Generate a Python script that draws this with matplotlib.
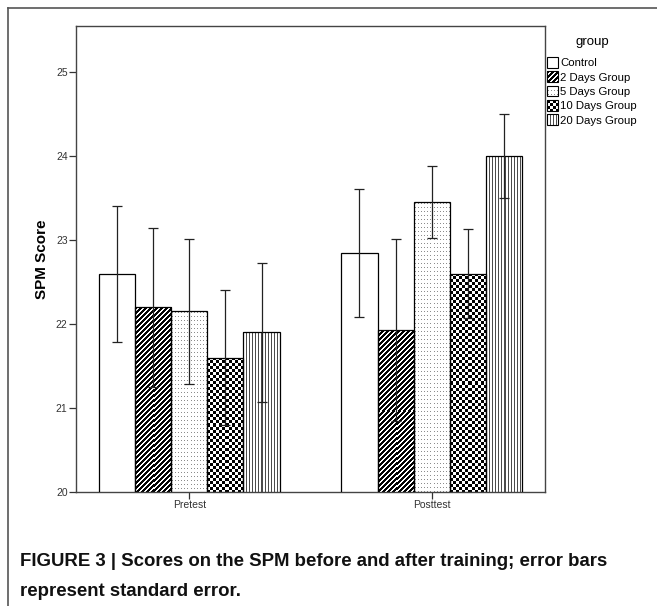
import matplotlib
matplotlib.use('Agg')
import matplotlib.pyplot as plt
import numpy as np
from matplotlib.legend_handler import HandlerBase
from matplotlib.lines import Line2D
from matplotlib.patches import Patch, Rectangle

# data
phases = ['Pretest', 'Posttest']
groups = ['Control', '2 Days Group', '5 Days Group', '10 Days Group', '20 Days Group']
means = {
    'Control':       [22.60, 22.85],
    '2 Days Group':  [22.20, 21.93],
    '5 Days Group':  [22.15, 23.45],
    '10 Days Group': [21.60, 22.60],
    '20 Days Group': [21.90, 24.00],
}
sems = {
    'Control':       [0.81, 0.76],
    '2 Days Group':  [0.95, 1.08],
    '5 Days Group':  [0.86, 0.43],
    '10 Days Group': [0.80, 0.53],
    '20 Days Group': [0.83, 0.50],
}
y_ticks = [20, 21, 22, 23, 24, 25]
textures = ['blank', 'diag', 'dots', 'checker', 'vlines']

DPI = 100
plt.rcParams['font.family'] = ['Liberation Sans Narrow', 'Liberation Sans', 'DejaVu Sans']


def texture(kind, h, w):
    # SPSS style fill patterns, one array cell per screen pixel
    yy, xx = np.mgrid[0:h, 0:w]
    img = np.ones((h, w))
    if kind == 'diag':
        img[(xx + yy) % 5 < 3] = 0.0
    elif kind == 'dots':
        img[(xx % 3 == 1) & (yy % 4 == 1)] = 0.55
    elif kind == 'checker':
        img[(xx // 3 + yy // 3) % 2 == 0] = 0.0
    elif kind == 'vlines':
        img[xx % 3 == 0] = 0.3
    return img


class TextureHandler(HandlerBase):
    def create_artists(self, legend, orig_handle, xdescent, ydescent,
                       width, height, fontsize, trans):
        px = 72.0 / DPI
        h = int(round(height / px))
        w = int(round(width / px))
        img = texture(orig_handle.get_gid(), h, w)
        arts = []
        for r in range(h):
            for c in range(w):
                if img[r, c] < 1:
                    g = img[r, c]
                    rect = Rectangle((-xdescent + c * px, -ydescent + (h - r - 1) * px),
                                     px, px, facecolor=(g, g, g), edgecolor='none',
                                     antialiased=False, transform=trans)
                    arts.append(rect)
        frame = Rectangle((-xdescent, -ydescent), width, height, facecolor='none',
                          edgecolor='black', linewidth=0.8, transform=trans)
        arts.append(frame)
        return arts


fig = plt.figure(figsize=(6.57, 6.06), dpi=DPI)
ax = fig.add_axes([76 / 657, 1 - 492 / 606, 469 / 657, 466 / 606])

x = np.arange(len(phases))
width = 0.149
ax.set_xlim(-0.467, 1.467)
ax.set_ylim(20, 25.55)

for i, (grp, tex) in enumerate(zip(groups, textures)):
    pos = x + (i - 2) * width
    bars = ax.bar(pos, means[grp], width, facecolor='none', edgecolor='black',
                  linewidth=0.9, zorder=3)
    if tex != 'blank':
        for bar in bars:
            bb = bar.get_window_extent()
            h = int(round(bb.y1 - ax.bbox.y0))
            w = int(round(bb.width))
            x0 = bar.get_x()
            im = ax.imshow(texture(tex, h, w), cmap='gray', vmin=0, vmax=1,
                           interpolation='nearest', aspect='auto', zorder=2,
                           extent=(x0, x0 + bar.get_width(), ax.get_ylim()[0], bar.get_height()))
            im.set_clip_path(bar)
    ax.errorbar(pos, means[grp], yerr=sems[grp], fmt='none', ecolor='#222222',
                elinewidth=0.9, capsize=3.5, capthick=0.9, zorder=4)

ax.set_xlim(-0.467, 1.467)
ax.set_ylim(20, 25.55)
ax.set_yticks(y_ticks)
ax.set_yticklabels([str(t) for t in y_ticks], fontsize=7.5, color='#333333')
ax.set_xticks(x)
ax.set_xticklabels(phases, fontsize=7.5, color='#333333')
ax.tick_params(length=5, width=0.9, color='#333333', pad=1)
ax.set_ylabel('SPM Score', fontsize=11, fontweight='bold', family='Liberation Sans', labelpad=5)
for s in ax.spines.values():
    s.set_color('#444444')
    s.set_linewidth(1.0)

# legend (title placed separately to get the SPSS gap)
handles = [Patch(facecolor='white', edgecolor='black', gid=t) for t in textures]
leg = ax.legend(handles, groups, loc='upper left',
                bbox_to_anchor=(547 / 657, 1 - 57 / 606), bbox_transform=fig.transFigure,
                handler_map={Patch: TextureHandler()}, frameon=False,
                fontsize=8.2, prop={'family': 'Liberation Sans', 'size': 8.2},
                handlelength=0.95, handleheight=1.05, handletextpad=0.2,
                labelspacing=0.28, borderaxespad=0, borderpad=0)
fig.text(592 / 657, 1 - 42 / 606, 'group', ha='center', va='center',
         fontsize=9.5, family='Liberation Sans')

# outer frame of the figure panel
fig.add_artist(Line2D([8 / 657, 1], [1 - 8 / 606] * 2, color='#555555', lw=1.2))
fig.add_artist(Line2D([8 / 657] * 2, [0, 1 - 8 / 606], color='#555555', lw=1.2))

fig.text(20 / 657, 1 - 566 / 606,
         'FIGURE 3 | Scores on the SPM before and after training; error bars',
         fontsize=13.4, fontweight='bold', color='#111111')
fig.text(20 / 657, 1 - 596 / 606, 'represent standard error.',
         fontsize=13.4, fontweight='bold', color='#111111')

fig.savefig('out.png', dpi=DPI)
